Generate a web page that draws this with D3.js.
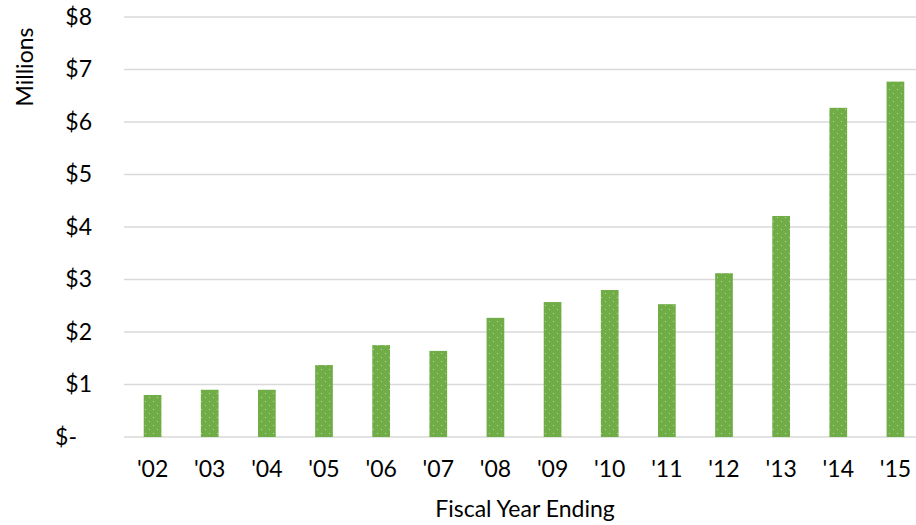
<!DOCTYPE html>
<html>
<head>
<meta charset="utf-8">
<script src="https://cdn.jsdelivr.net/npm/d3@7"></script>
<style>
  html, body { margin: 0; padding: 0; background: #fff; }
  svg text { font-family: Lato, "Open Sans", sans-serif; fill: #000; }
</style>
</head>
<body>
<svg id="chart" width="916" height="525"></svg>
<script>
// Fiscal years and revenue in millions of dollars
const years = ["'02", "'03", "'04", "'05", "'06", "'07", "'08", "'09", "'10", "'11", "'12", "'13", "'14", "'15"];
const values = [0.80, 0.90, 0.90, 1.37, 1.75, 1.64, 2.27, 2.57, 2.80, 2.53, 3.12, 4.21, 6.27, 6.77];
const yTicks = [0, 1, 2, 3, 4, 5, 6, 7, 8];

const svg = d3.select("#chart");
const plotLeft = 124, plotRight = 924, plotTop = 17, plotBottom = 437;
const fontSize = 23;

const x = d3.scaleBand().domain(years).range([plotLeft, plotRight]).paddingInner(0.69).paddingOuter(0.345);
const y = d3.scaleLinear().domain([0, 8]).range([plotBottom, plotTop]);

// dotted fill for the bars
const defs = svg.append("defs");
const pat = defs.append("pattern").attr("id", "dots").attr("patternUnits", "userSpaceOnUse")
  .attr("width", 8).attr("height", 8);
pat.append("rect").attr("width", 8).attr("height", 8).attr("fill", "#70ad47");
pat.append("rect").attr("x", 1).attr("y", 1).attr("width", 1).attr("height", 1).attr("fill", "#b5d99c");
pat.append("rect").attr("x", 5).attr("y", 5).attr("width", 1).attr("height", 1).attr("fill", "#b5d99c");

// horizontal gridlines
svg.append("g").selectAll("line").data(yTicks).join("line")
  .attr("x1", plotLeft).attr("x2", 916)
  .attr("y1", d => y(d)).attr("y2", d => y(d))
  .attr("stroke", "#d9d9d9").attr("stroke-width", 1.5);

// bars
svg.append("g").selectAll("rect").data(values).join("rect")
  .attr("x", (d, i) => x(years[i]))
  .attr("width", x.bandwidth())
  .attr("y", d => y(d))
  .attr("height", d => y(0) - y(d))
  .attr("fill", "url(#dots)");

// y axis labels
const yAxis = svg.append("g").attr("transform", `translate(92,0)`)
  .call(d3.axisLeft(y).tickValues(yTicks).tickSize(0).tickPadding(0)
    .tickFormat(d => d === 0 ? "$-" : "$" + d));
yAxis.select(".domain").remove();
yAxis.selectAll("text").style("font-size", fontSize + "px").attr("fill", "#000")
  .attr("dx", d => d === 0 ? -15 : 0);

// x axis labels
const xAxis = svg.append("g").attr("transform", `translate(0,${plotBottom})`)
  .call(d3.axisBottom(x).tickSize(0).tickPadding(24));
xAxis.select(".domain").remove();
xAxis.selectAll("text").style("font-size", fontSize + "px").attr("fill", "#000");

// axis titles
svg.append("text").attr("x", 525).attr("y", 517).attr("text-anchor", "middle")
  .style("font-size", fontSize + "px").text("Fiscal Year Ending");
svg.append("text").attr("transform", "translate(33,67) rotate(-90)").attr("text-anchor", "middle")
  .style("font-size", fontSize + "px").text("Millions");
</script>
</body>
</html>
